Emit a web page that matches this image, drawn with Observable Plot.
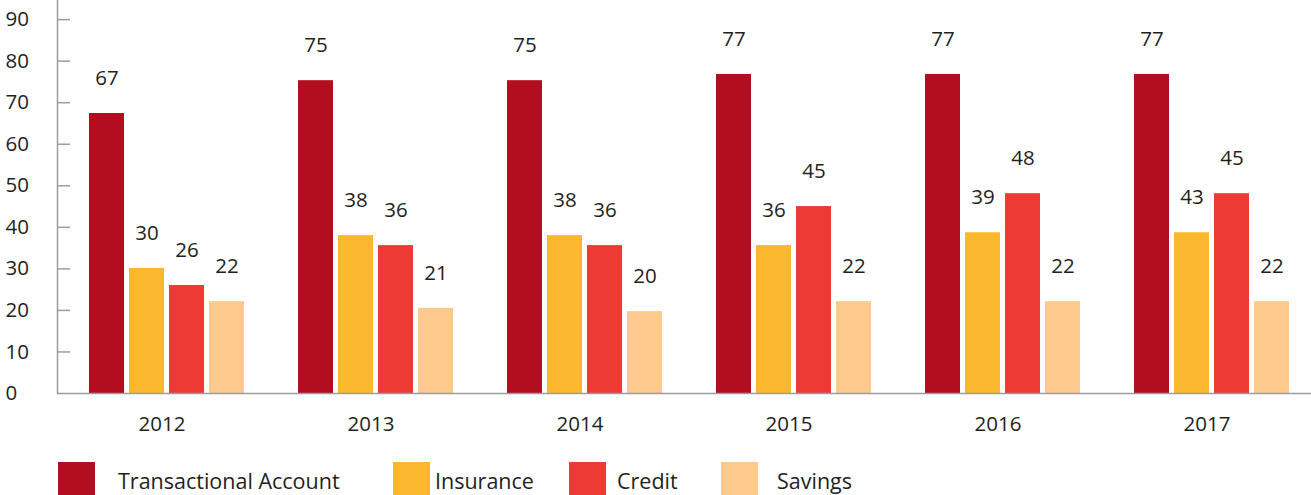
<!DOCTYPE html>
<html><head><meta charset="utf-8">
<script src="https://cdn.jsdelivr.net/npm/d3@7"></script>
<script src="https://cdn.jsdelivr.net/npm/@observablehq/plot@0.6"></script>
<style>
html,body{margin:0;padding:0;background:#fff;overflow:hidden}
body{font-family:"Open Sans",sans-serif;color:#231f20}
#legend{position:relative;height:50px;width:1311px}
.item{position:absolute;top:17px;display:flex;align-items:center;height:33px}
.sw{width:37px;height:33px;flex:none}
.lab{font-size:21.5px;white-space:nowrap;position:relative;top:2px}
</style></head><body>
<div id="chart"></div><div id="legend"></div>
<script>
const years = ["2012", "2013", "2014", "2015", "2016", "2017"];
const series = ["Transactional Account", "Insurance", "Credit", "Savings"];
const colors = ["#B20E1F", "#FBB72E", "#EE3A34", "#FDC98C"];
// bar heights as drawn
const transactional = [67.4, 75.3, 75.3, 76.8, 76.8, 76.8];
const insurance = [30.1, 38.0, 38.0, 35.6, 38.7, 38.7];
const credit = [26.0, 35.6, 35.6, 45.0, 48.1, 48.1];
const savings = [22.1, 20.5, 19.7, 22.1, 22.1, 22.1];
// printed labels
const transactionalLabels = ["67", "75", "75", "77", "77", "77"];
const insuranceLabels = ["30", "38", "38", "36", "39", "43"];
const creditLabels = ["26", "36", "36", "45", "48", "45"];
const savingsLabels = ["22", "21", "20", "22", "22", "22"];
const yTicks = [0, 10, 20, 30, 40, 50, 60, 70, 80, 90];

const values = [transactional, insurance, credit, savings];
const labels = [transactionalLabels, insuranceLabels, creditLabels, savingsLabels];
const data = [];
years.forEach((year, i) => series.forEach((s, j) => data.push({year, series: s, value: values[j][i], label: labels[j][i]})));

const W = 1311, ML = 57, facetW = (W - ML) / years.length;
const axisColor = "#9d9d9d";

const chart = Plot.plot({
  width: W,
  height: 445,
  marginLeft: ML,
  marginRight: 0,
  marginTop: 0,
  marginBottom: 52,
  style: {fontFamily: "'Open Sans', sans-serif", fontSize: "20px", color: "#231f20", background: "#fff"},
  fx: {domain: years, padding: 0},
  x: {domain: series, paddingInner: 0.1375, paddingOuter: 0.681, align: 0.587, axis: null},
  y: {domain: [0, 94.6], axis: null},
  color: {domain: series, range: colors},
  marks: [
    Plot.barY(data, {fx: "year", x: "series", y: "value", fill: "series"}),
    Plot.text(data, {fx: "year", x: "series", y: "value", text: "label", dy: -35, lineAnchor: "middle", fill: "#231f20", fontSize: 20.5}),
    Plot.ruleY([0], {stroke: axisColor, strokeWidth: 1.5}),
    Plot.tickY(yTicks.filter(d => d > 0), {y: d => d, stroke: axisColor, strokeWidth: 1.5, insetRight: facetW - 13, facetAnchor: "left"}),
    Plot.frame({anchor: "left", stroke: axisColor, strokeWidth: 1.5, facetAnchor: "left"}),
    Plot.axisY({ticks: yTicks, tickSize: 0, tickPadding: 52, textAnchor: "start", fontSize: 20.5, fill: "#231f20", label: null}),
    Plot.axisFx({anchor: "bottom", tickSize: 0, tickPadding: 23, fontSize: 20.5, fill: "#231f20", label: null})
  ]
});
document.getElementById("chart").appendChild(chart);

const legendLeft = [58, 393, 569, 721];
const legendGap = [23, 5, 11, 19];
const legend = document.getElementById("legend");
series.forEach((s, i) => {
  const item = document.createElement("div");
  item.className = "item";
  item.style.left = legendLeft[i] + "px";
  const sw = document.createElement("div");
  sw.className = "sw";
  sw.style.background = colors[i];
  const lab = document.createElement("span");
  lab.className = "lab";
  lab.style.marginLeft = legendGap[i] + "px";
  lab.textContent = s;
  item.append(sw, lab);
  legend.appendChild(item);
});
</script>
</body></html>
